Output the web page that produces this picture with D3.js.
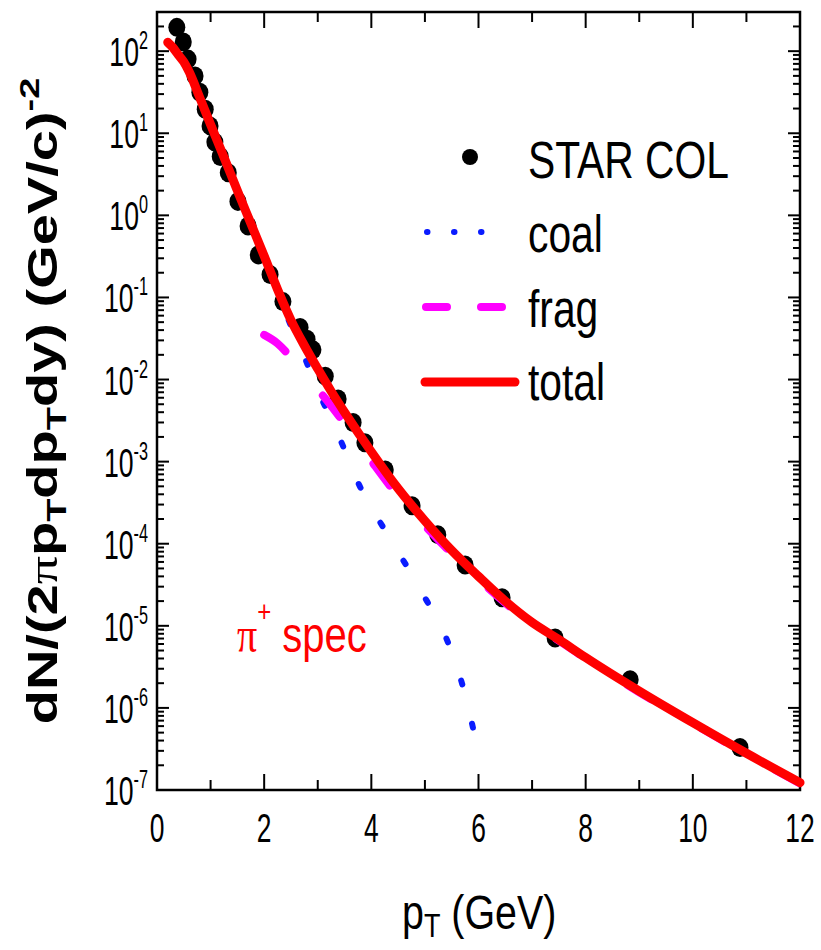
<!DOCTYPE html>
<html>
<head>
<meta charset="utf-8">
<script src="https://cdn.jsdelivr.net/npm/d3@7"></script>
<style>
  body { margin: 0; background: #fff; }
  text { font-family: "Liberation Sans", Arial, sans-serif; }
</style>
</head>
<body>
<svg id="chart" width="821" height="950"></svg>
<script>
// STAR data points (pT in GeV, yield)
var starPt  = [0.37, 0.49, 0.58, 0.71, 0.80, 0.90, 0.99, 1.08, 1.18, 1.33, 1.51, 1.70, 1.89, 2.11, 2.35,
               2.67, 2.80, 2.91, 3.14, 3.38, 3.66, 3.88, 4.26, 4.76, 5.24, 5.75, 6.44, 7.43, 8.83, 10.88];
var starVal = [195, 129, 80, 50, 31.6, 19.6, 12.3, 7.8, 5.2, 3.3, 1.48, 0.74, 0.33, 0.19, 0.089,
               0.043, 0.031, 0.023, 0.011, 0.0058, 0.0030, 0.0017, 7.9e-4, 2.9e-4, 1.29e-4, 5.5e-5, 2.2e-5, 7.1e-6, 2.2e-6, 3.3e-7];

// coalescence curve
var coalPt  = [0.2, 0.3, 0.4, 0.5, 0.6, 0.8, 1.0, 1.25, 1.5, 1.75, 2.0, 2.25, 2.5, 2.75, 3.0, 3.25, 3.5,
               3.75, 4.0, 4.25, 4.5, 4.75, 5.0, 5.25, 5.5, 5.75, 5.9];
var coalVal = [127, 109, 89, 73, 55, 26.5, 12.6, 5.0, 1.97, 0.78, 0.30, 0.115, 0.045, 0.019, 0.0074, 0.0033, 0.0014,
               5.6e-4, 2.75e-4, 1.48e-4, 7.9e-5, 4.3e-5, 2.2e-5, 1.15e-5, 4.8e-6, 1.45e-6, 5.6e-7];

// fragmentation curve
var fragPt  = [2.0, 2.25, 2.5, 2.75, 3.0, 3.25, 3.5, 4.0, 4.5, 5.0, 5.5, 6.0, 6.5, 7.0, 7.5, 8.0, 9.0, 10.0, 11.0, 12.0];
var fragVal = [0.035, 0.0275, 0.0186, 0.012, 0.0076, 0.0048, 0.0029, 1.02e-3, 3.8e-4, 1.66e-4, 7.6e-5, 3.7e-5,
               1.9e-5, 1.05e-5, 6.6e-6, 4.0e-6, 1.55e-6, 6.5e-7, 2.75e-7, 1.2e-7];

// total
var totalPt  = [0.2, 0.3, 0.4, 0.5, 0.6, 0.8, 1.0, 1.25, 1.5, 1.75, 2.0, 2.25, 2.5, 2.75, 3.0, 3.25, 3.5, 4.0, 4.5,
                5.0, 5.5, 6.0, 6.5, 7.0, 7.5, 8.0, 9.0, 10.0, 11.0, 12.0];
var totalVal = [128, 110, 90, 74, 56, 27, 12.8, 5.1, 2.0, 0.80, 0.32, 0.125, 0.053, 0.026, 0.0135, 0.0072, 0.0040,
                1.32e-3, 4.7e-4, 1.9e-4, 8.3e-5, 4.0e-5, 2.0e-5, 1.1e-5, 6.8e-6, 4.1e-6, 1.6e-6, 6.6e-7, 2.8e-7, 1.23e-7];

var xTickVals = [0, 2, 4, 6, 8, 10, 12];
var yExponents = [-7, -6, -5, -4, -3, -2, -1, 0, 1, 2];

var svg = d3.select("#chart");

var x = d3.scaleLinear().domain([0, 12]).range([157, 800]);
var y = d3.scaleLog().domain([1e-7, 300]).range([790, 12]);

function zip(a, b) { return a.map(function(v, i) { return [v, b[i]]; }); }

var line = d3.line()
    .x(function(d) { return x(d[0]); })
    .y(function(d) { return y(d[1]); })
    .curve(d3.curveMonotoneX);

// ---- axes frame and ticks
var axis = svg.append("g").attr("stroke", "#000");

axis.append("rect")
    .attr("x", x(0)).attr("y", y(300))
    .attr("width", x(12) - x(0)).attr("height", y(1e-7) - y(300))
    .attr("fill", "none").attr("stroke-width", 2.5);

x.ticks(12).forEach(function(v) {
  var len = (v % 2 === 0) ? 16 : 10;
  axis.append("line").attr("x1", x(v)).attr("x2", x(v)).attr("y1", y(1e-7)).attr("y2", y(1e-7) - len).attr("stroke-width", 2);
  axis.append("line").attr("x1", x(v)).attr("x2", x(v)).attr("y1", y(300)).attr("y2", y(300) + len).attr("stroke-width", 2);
});

y.ticks().forEach(function(v) {
  var e = Math.log10(v);
  var major = Math.abs(e - Math.round(e)) < 1e-9;
  var len = major ? 12 : 7;
  axis.append("line").attr("x1", x(0)).attr("x2", x(0) + len).attr("y1", y(v)).attr("y2", y(v)).attr("stroke-width", 2);
  axis.append("line").attr("x1", x(12)).attr("x2", x(12) - len).attr("y1", y(v)).attr("y2", y(v)).attr("stroke-width", 2);
});

// tick labels
xTickVals.forEach(function(v) {
  svg.append("text")
      .attr("transform", "translate(" + x(v) + ",842) scale(0.66,1)")
      .attr("text-anchor", "middle")
      .attr("font-size", 40)
      .text(v);
});

yExponents.forEach(function(k) {
  var t = svg.append("text")
      .attr("transform", "translate(148," + (y(Math.pow(10, k)) + 15) + ") scale(0.65,1)")
      .attr("text-anchor", "end")
      .attr("font-size", 41);
  t.append("tspan").text("10");
  t.append("tspan").attr("font-size", 25).attr("dy", -17).text(k);
});

// axis titles
var xt = svg.append("text")
    .attr("transform", "translate(402,929) scale(0.82,1)")
    .attr("font-size", 48);
xt.append("tspan").text("p");
xt.append("tspan").attr("font-size", 33).attr("dy", 8).text("T");
xt.append("tspan").attr("dy", -8).text(" (GeV)");

var yt = svg.append("text")
    .attr("transform", "translate(57,401) rotate(-90) scale(1,0.75)")
    .attr("text-anchor", "middle")
    .attr("font-size", 56)
    .attr("font-weight", "bold");
yt.append("tspan").text("dN/(2");
yt.append("tspan").attr("font-family", "Liberation Serif").attr("font-weight", "normal").text("\u03c0");
yt.append("tspan").text("p");
yt.append("tspan").attr("font-size", 38).attr("dy", 12).text("T");
yt.append("tspan").attr("dy", -12).text("dp");
yt.append("tspan").attr("font-size", 38).attr("dy", 12).text("T");
yt.append("tspan").attr("dy", -12).text("dy) (GeV/c)");
yt.append("tspan").attr("font-size", 38).attr("dy", -24).text("-2");

// ---- data
svg.append("g").selectAll("ellipse")
    .data(zip(starPt, starVal))
    .enter().append("ellipse")
      .attr("cx", function(d) { return x(d[0]); })
      .attr("cy", function(d) { return y(d[1]); })
      .attr("rx", 8.5)
      .attr("ry", 9.5)
      .attr("fill", "#000");

var coalPath = svg.append("path")
    .datum(zip(coalPt, coalVal))
    .attr("d", line)
    .attr("fill", "none")
    .attr("stroke", "#0a1cff")
    .attr("stroke-width", 6)
    .attr("stroke-linecap", "round");
// place a dot at the very end of the coal curve, like the reference
var coalLen = coalPath.node().getTotalLength();
var coalPeriod = 44.5, coalDash = 4;
coalPath.attr("stroke-dasharray", coalDash + "," + (coalPeriod - coalDash))
    .attr("stroke-dashoffset", ((coalDash / 2 - coalLen + 3) % coalPeriod + coalPeriod) % coalPeriod);

svg.append("path")
    .datum(zip(fragPt, fragVal))
    .attr("d", line)
    .attr("fill", "none")
    .attr("stroke", "#ff00ff")
    .attr("stroke-width", 8)
    .attr("stroke-linecap", "round")
    .attr("stroke-dasharray", "27,58");

svg.append("path")
    .datum(zip(totalPt, totalVal))
    .attr("d", line)
    .attr("fill", "none")
    .attr("stroke", "#ff0000")
    .attr("stroke-width", 9)
    .attr("stroke-linecap", "round");

// ---- legend
var leg = svg.append("g");
leg.append("circle").attr("cx", 470).attr("cy", 157).attr("r", 8).attr("fill", "#000");
leg.append("line").attr("x1", 427).attr("x2", 508).attr("y1", 232).attr("y2", 232)
    .attr("stroke", "#0a1cff").attr("stroke-width", 6).attr("stroke-linecap", "round").attr("stroke-dasharray", "0.5,26.5");
leg.append("line").attr("x1", 426).attr("x2", 506).attr("y1", 307).attr("y2", 307)
    .attr("stroke", "#ff00ff").attr("stroke-width", 8).attr("stroke-linecap", "round").attr("stroke-dasharray", "21,34");
leg.append("line").attr("x1", 425).attr("x2", 515).attr("y1", 382).attr("y2", 382)
    .attr("stroke", "#ff0000").attr("stroke-width", 9).attr("stroke-linecap", "round");

var legNames = ["STAR COL", "coal", "frag", "total"];
var legBase = [178, 252, 327, 400];
legNames.forEach(function(n, i) {
  leg.append("text")
      .attr("transform", "translate(528," + legBase[i] + ") scale(0.8,1)")
      .attr("font-size", 51)
      .text(n);
});

// pi+ spec annotation
var ann = svg.append("text")
    .attr("transform", "translate(237,652) scale(0.8,1)")
    .attr("font-size", 50)
    .attr("fill", "#ff0000");
ann.append("tspan").attr("font-family", "Liberation Serif").text("\u03c0");
ann.append("tspan").attr("font-size", 30).attr("dy", -30).text("+");
ann.append("tspan").attr("dy", 30).text(" spec");
</script>
</body>
</html>
